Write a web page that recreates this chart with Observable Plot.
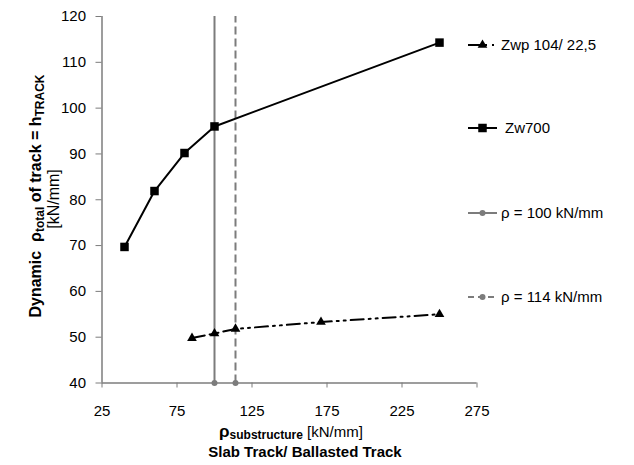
<!DOCTYPE html>
<html>
<head>
<meta charset="utf-8">
<script src="https://cdn.jsdelivr.net/npm/d3@7"></script>
<script src="https://cdn.jsdelivr.net/npm/@observablehq/plot@0.6"></script>
<style>
  html, body { margin: 0; padding: 0; background: #fff; }
  #chart svg { display: block; }
</style>
</head>
<body>
<div id="chart"></div>
<script>
// ---- Data ----
const zw700X = [40, 60, 80, 100, 250];
const zw700Y = [69.7, 81.9, 90.2, 96.0, 114.3];
const zwpX = [85, 100, 114, 171, 250];
const zwpY = [49.8, 50.8, 51.8, 53.3, 55.0];
const refX = [100, 114];
const refNames = ["ρ = 100 kN/mm", "ρ = 114 kN/mm"];
const seriesNames = ["Zwp 104/ 22,5", "Zw700"];
const xTicks = [25, 75, 125, 175, 225, 275];
const yTicks = [40, 50, 60, 70, 80, 90, 100, 110, 120];
const xDomain = [25, 275];
const yDomain = [40, 120];

const zw700 = zw700X.map((x, i) => ({x, y: zw700Y[i]}));
const zwp = zwpX.map((x, i) => ({x, y: zwpY[i]}));
const refs = refX.map((x, i) => ({x, name: refNames[i], dash: i === 1}));

const GRAY = "#7c7c7c";
const FONT = "'Liberation Sans', Arial, sans-serif";

const W = 634, H = 465;
const plot = Plot.plot({
  width: W,
  height: H,
  marginLeft: 101.5,
  marginRight: 157.5,
  marginTop: 16,
  marginBottom: 82.5,
  style: {fontFamily: FONT, fontSize: "15px", color: "black", background: "white"},
  x: {domain: xDomain, label: null},
  y: {domain: yDomain, label: null},
  marks: [
    // axis lines
    Plot.ruleY([yDomain[0]], {stroke: GRAY, strokeWidth: 1.5}),
    Plot.ruleX([xDomain[0]], {stroke: GRAY, strokeWidth: 1.5}),
    Plot.axisY({ticks: yTicks, tickSize: 6, tickPadding: 10, stroke: GRAY, fill: "black", label: null}),
    Plot.axisX({ticks: xTicks, tickSize: 5, tickPadding: 17, stroke: GRAY, fill: "black", label: null}),
    // reference lines
    Plot.ruleX(refs.filter(d => !d.dash), {x: "x", y1: yDomain[0], y2: yDomain[1], stroke: GRAY, strokeWidth: 2}),
    Plot.ruleX(refs.filter(d => d.dash), {x: "x", y1: yDomain[0], y2: yDomain[1], stroke: GRAY, strokeWidth: 2, strokeDasharray: "8,4"}),
    Plot.dot(refs, {x: "x", y: () => yDomain[0], r: 3, fill: GRAY, stroke: "none"}),
    // Zw700
    Plot.line(zw700, {x: "x", y: "y", stroke: "black", strokeWidth: 2}),
    Plot.dot(zw700, {x: "x", y: "y", symbol: "square", r: 4.8, fill: "black", stroke: "none"}),
    // Zwp 104/22,5
    Plot.line(zwp, {x: "x", y: "y", stroke: "black", strokeWidth: 2, strokeDasharray: "13,5,2,5,2,5"}),
    Plot.dot(zwp, {x: "x", y: "y", symbol: "triangle", r: 3.6, fill: "black", stroke: "none"})
  ]
});

document.getElementById("chart").appendChild(plot);

// ---- Titles and legend ----
const svg = d3.select(plot);
const g = svg.append("g").attr("font-family", FONT).attr("fill", "black").attr("text-anchor", "start");

// Y axis title (rotated)
const yt1 = g.append("text")
  .attr("transform", "translate(41,196) rotate(-90)")
  .attr("text-anchor", "middle")
  .attr("font-size", 16).attr("font-weight", "bold");
yt1.append("tspan").text("Dynamic\u00A0\u00A0ρ");
yt1.append("tspan").attr("font-size", 12).attr("dy", 3).text("total");
yt1.append("tspan").attr("dy", -3).text("\u00A0of track = h");
yt1.append("tspan").attr("font-size", 12).attr("dy", 3).text("TRACK");

g.append("text")
  .attr("transform", "translate(59,199) rotate(-90)")
  .attr("text-anchor", "middle")
  .attr("font-size", 16)
  .text("[kN/mm]");

// X axis title
const xt1 = g.append("text")
  .attr("x", 291).attr("y", 437)
  .attr("text-anchor", "middle")
  .attr("font-size", 15);
xt1.append("tspan").attr("font-weight", "bold").attr("font-size", 17).text("ρ");
xt1.append("tspan").attr("font-weight", "bold").attr("font-size", 12).attr("dy", 2).text("substructure");
xt1.append("tspan").attr("dy", -2).text(" [kN/mm]");

g.append("text")
  .attr("x", 305).attr("y", 457)
  .attr("text-anchor", "middle")
  .attr("font-size", 15).attr("font-weight", "bold")
  .text("Slab Track/ Ballasted Track");

// Legend
const legend = [
  {name: seriesNames[0], y: 45, stroke: "black", dash: "12,5,2,5,2,5", sym: d3.symbolTriangle, r: 3.6, fill: "black", tx: 501},
  {name: seriesNames[1], y: 128, stroke: "black", dash: null, sym: d3.symbolSquare, r: 4.8, fill: "black", tx: 505},
  {name: refNames[0], y: 213, stroke: GRAY, dash: null, sym: d3.symbolCircle, r: 3, fill: GRAY, tx: 501},
  {name: refNames[1], y: 297, stroke: GRAY, dash: "6,4", sym: d3.symbolCircle, r: 3, fill: GRAY, tx: 501}
];
legend.forEach(d => {
  const line = g.append("line")
    .attr("x1", 468).attr("x2", 497).attr("y1", d.y).attr("y2", d.y)
    .attr("stroke", d.stroke).attr("stroke-width", 2);
  if (d.dash) line.attr("stroke-dasharray", d.dash);
  g.append("path")
    .attr("transform", `translate(482.5,${d.y})`)
    .attr("d", d3.symbol(d.sym, Math.PI * d.r * d.r)())
    .attr("fill", d.fill);
  g.append("text")
    .attr("x", d.tx).attr("y", d.y).attr("dy", "0.35em")
    .attr("text-anchor", "start")
    .attr("font-size", 15)
    .text(d.name);
});
</script>
</body>
</html>
